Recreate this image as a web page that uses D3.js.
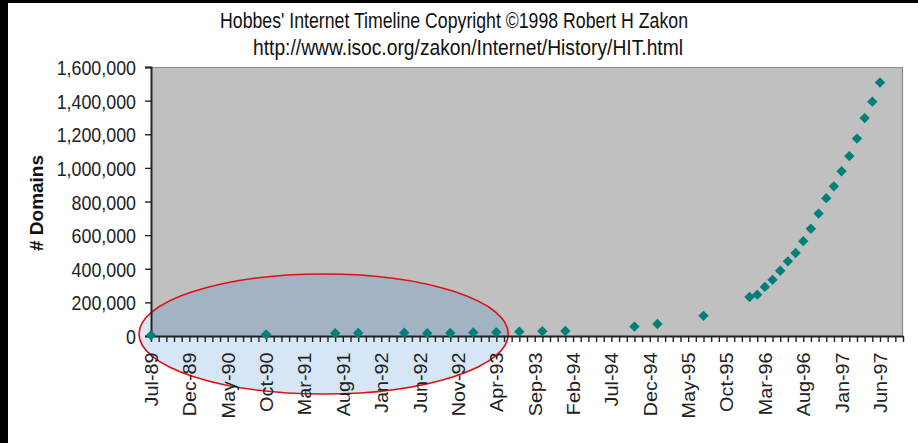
<!DOCTYPE html>
<html lang="en">
<head>
    <meta charset="UTF-8">
    <style>
        body { margin: 0; background: #fff; }
        svg { display: block; font-family: "Liberation Sans", Arial, sans-serif; }
    </style>
</head>
<body>
    <script src="https://d3js.org/d3.v7.min.js"></script>
    <div id="here"></div>

    <script>
        // points (month, # domains)
        const months = ["Jul-89", "Oct-90", "Jul-91", "Oct-91", "Apr-92", "Jul-92", "Oct-92", "Jan-93",
            "Apr-93", "Jul-93", "Oct-93", "Jan-94", "Oct-94", "Jan-95", "Jul-95",
            "Jan-96", "Feb-96", "Mar-96", "Apr-96", "May-96", "Jun-96", "Jul-96", "Aug-96", "Sep-96",
            "Oct-96", "Nov-96", "Dec-96", "Jan-97", "Feb-97", "Mar-97", "Apr-97", "May-97", "Jun-97"];
        const domains = [3900, 9300, 16000, 18000, 20000, 16300, 18100, 21000,
            22000, 26000, 28000, 30000, 56000, 71000, 120000,
            232000, 246000, 292000, 334000, 388000, 444000, 494000, 564000, 638000,
            728000, 820000, 890000, 980000, 1070000, 1174000, 1296000, 1394000, 1508000];

        const xTickLabels = ["Jul-89", "Dec-89", "May-90", "Oct-90", "Mar-91", "Aug-91", "Jan-92", "Jun-92",
            "Nov-92", "Apr-93", "Sep-93", "Feb-94", "Jul-94", "Dec-94", "May-95", "Oct-95",
            "Mar-96", "Aug-96", "Jan-97", "Jun-97"];
        const yTicks = [0, 200000, 400000, 600000, 800000, 1000000, 1200000, 1400000, 1600000];

        const titleLines = ["Hobbes' Internet Timeline Copyright \u00A91998 Robert H Zakon",
            "http://www.isoc.org/zakon/Internet/History/HIT.html"];

        const W = 918, H = 443;
        const plot = { left: 151, right: 903, top: 67, bottom: 336 };

        const parse = d3.timeParse("%b-%y");
        const fmt = d3.timeFormat("%b-%y");
        const start = parse("Jul-89"), end = parse("Sep-97");

        const svg = d3.select("#here").append("svg")
            .attr("width", W).attr("height", H);

        svg.append("rect").attr("width", W).attr("height", H).attr("fill", "#fff");
        // black frame bits
        svg.append("rect").attr("x", 0).attr("y", 0).attr("width", 8).attr("height", H).attr("fill", "#000");
        svg.append("rect").attr("x", 0).attr("y", 0).attr("width", W).attr("height", 3).attr("fill", "#000");

        // month index scale so the months are evenly spaced like Excel does
        const monthIndex = d => d3.timeMonth.count(start, d);
        const xi = d3.scaleLinear()
            .domain([0, monthIndex(end)])
            .range([plot.left, plot.right]);
        const x = d => xi(monthIndex(d));

        const y = d3.scaleLinear()
            .domain([0, 1600000])
            .range([plot.bottom, plot.top]);

        // plot area
        svg.append("rect")
            .attr("x", plot.left).attr("y", plot.top)
            .attr("width", plot.right - plot.left).attr("height", plot.bottom - plot.top)
            .attr("fill", "#c0c0c0");
        svg.append("path")
            .attr("d", `M${plot.left},${plot.top + 0.5}H${plot.right - 0.5}V${plot.bottom}`)
            .attr("fill", "none").attr("stroke", "#8c8c8c").attr("stroke-width", 1.2);

        // title (glyphs look a bit tall and narrow in the original)
        const titleX = [454, 468], titleY = [28, 55], titleW = [468, 430];
        titleLines.forEach((t, i) => {
            svg.append("text")
                .attr("transform", `translate(${titleX[i]},${titleY[i]}) scale(1,1.08)`)
                .attr("text-anchor", "middle")
                .attr("font-size", 20)
                .attr("textLength", titleW[i])
                .attr("lengthAdjust", "spacingAndGlyphs")
                .attr("fill", "#111")
                .text(t);
        });

        // highlight ellipse around the early years
        const e0 = xi(0), e1 = x(parse("Apr-93"));
        svg.append("ellipse")
            .attr("cx", (e0 + e1) / 2)
            .attr("cy", y(0) - 2)
            .attr("rx", (e1 - e0) / 2 + 12)
            .attr("ry", 60)
            .attr("fill", "rgb(39,123,208)")
            .attr("fill-opacity", 0.19)
            .attr("stroke", "#e01010")
            .attr("stroke-width", 1.6);

        // y axis
        const yAxis = svg.append("g")
            .attr("transform", `translate(${plot.left},0)`)
            .call(d3.axisLeft(y).tickValues(yTicks).tickFormat(d3.format(",")).tickSize(6).tickPadding(0));
        yAxis.select(".domain").attr("stroke", "#222").attr("stroke-width", 2);
        yAxis.selectAll(".tick line").attr("stroke", "#222").attr("stroke-width", 1.4);
        yAxis.selectAll(".tick text")
            .attr("x", -15 / 0.85)
            .attr("dy", "0.36em")
            .attr("transform", "scale(0.85,1)")
            .attr("font-size", 21)
            .attr("fill", "#222");

        // x axis, a tick every month, label every 5 months
        const allMonths = d3.timeMonth.range(start, d3.timeMonth.offset(end, 1));
        const xAxis = svg.append("g")
            .attr("transform", `translate(0,${plot.bottom})`)
            .call(d3.axisBottom(d3.scaleLinear().domain(xi.domain()).range(xi.range()))
                .tickValues(allMonths.map(monthIndex))
                .tickFormat(i => {
                    const s = fmt(d3.timeMonth.offset(start, i));
                    return xTickLabels.includes(s) ? s : "";
                })
                .tickSize(6).tickSizeOuter(0));
        xAxis.select(".domain").attr("stroke", "#222").attr("stroke-width", 2);
        xAxis.selectAll(".tick line").attr("stroke", "#222").attr("stroke-width", 1.4);
        xAxis.selectAll(".tick text")
            .attr("x", -16.5 / 1.1)
            .attr("y", 0)
            .attr("dy", "0.36em")
            .attr("text-anchor", "end")
            .attr("transform", "rotate(-90) scale(1.1,1)")
            .attr("font-size", 18)
            .attr("fill", "#222");

        // y title
        svg.append("text")
            .attr("transform", `translate(43,203) rotate(-90)`)
            .attr("text-anchor", "middle")
            .attr("font-size", 19)
            .attr("font-weight", "bold")
            .attr("fill", "#111")
            .text("# Domains");

        // diamonds
        const pts = months.map((m, i) => ({ date: parse(m), value: domains[i] }));
        svg.append("g").selectAll("path")
            .data(pts)
            .join("path")
            .attr("transform", d => `translate(${x(d.date)},${y(d.value)}) rotate(45)`)
            .attr("d", d3.symbol(d3.symbolSquare, 54))
            .attr("fill", "#00807a");
    </script>
</body>
</html>
